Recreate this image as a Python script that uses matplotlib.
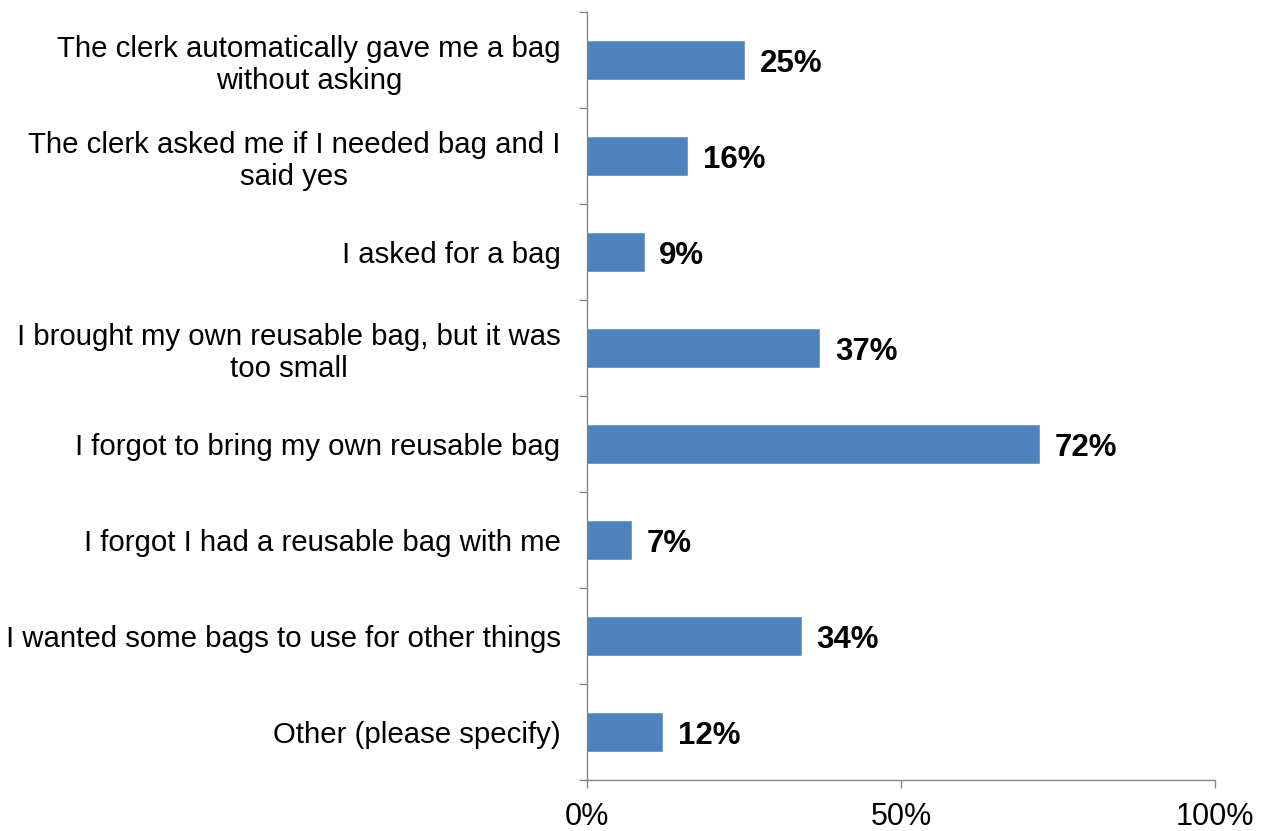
import numpy as np
import matplotlib.pyplot as plt
from matplotlib.ticker import FixedLocator, PercentFormatter

plt.rcParams['font.family'] = ['Liberation Sans', 'DejaVu Sans']

reasons = [
    'The clerk automatically gave me a bag\nwithout asking',
    'The clerk asked me if I needed bag and I\nsaid yes',
    'I asked for a bag',
    'I brought my own reusable bag, but it was\ntoo small',
    'I forgot to bring my own reusable bag',
    'I forgot I had a reusable bag with me',
    'I wanted some bags to use for other things',
    'Other (please specify)',
]
shares = [25, 16, 9, 37, 72, 7, 34, 12]

bar_color = '#4F81BD'
axis_color = '#868686'

fig = plt.figure(figsize=(12.7, 8.31), dpi=100)
ax = fig.add_axes([0.4622, 0.0614, 0.9567 - 0.4622, 0.9856 - 0.0614])

y = np.arange(len(reasons))
ax.barh(y, shares, height=0.4, color=bar_color, edgecolor='#6F97C9', linewidth=0.6)

for yi, v in zip(y, shares):
    ax.text(v + 2.5, yi + 0.04, f'{v}%', va='center', ha='left',
            fontsize=22.5, fontweight='bold', color='black')

ax.set_xlim(0, 100)
ax.set_ylim(len(reasons) - 0.5, -0.5)

ax.set_xticks([0, 50, 100])
ax.xaxis.set_major_formatter(PercentFormatter(decimals=0))
ax.tick_params(axis='x', direction='out', length=6, width=1, color=axis_color,
               labelsize=22, pad=10)

# category labels sit between boundary ticks
ax.set_yticks(y)
ax.set_yticklabels(reasons, fontsize=21.2, ha='right', multialignment='center',
                   linespacing=1.2)
ax.tick_params(axis='y', which='major', length=0, pad=19)
ax.yaxis.set_minor_locator(FixedLocator(np.arange(-0.5, len(reasons), 1.0)))
ax.tick_params(axis='y', which='minor', direction='out', length=6, width=1,
               color=axis_color)

for side in ['top', 'right']:
    ax.spines[side].set_visible(False)
for side in ['left', 'bottom']:
    ax.spines[side].set_color(axis_color)
    ax.spines[side].set_linewidth(1.0)

fig.savefig('out.png', dpi=100, facecolor='white')
